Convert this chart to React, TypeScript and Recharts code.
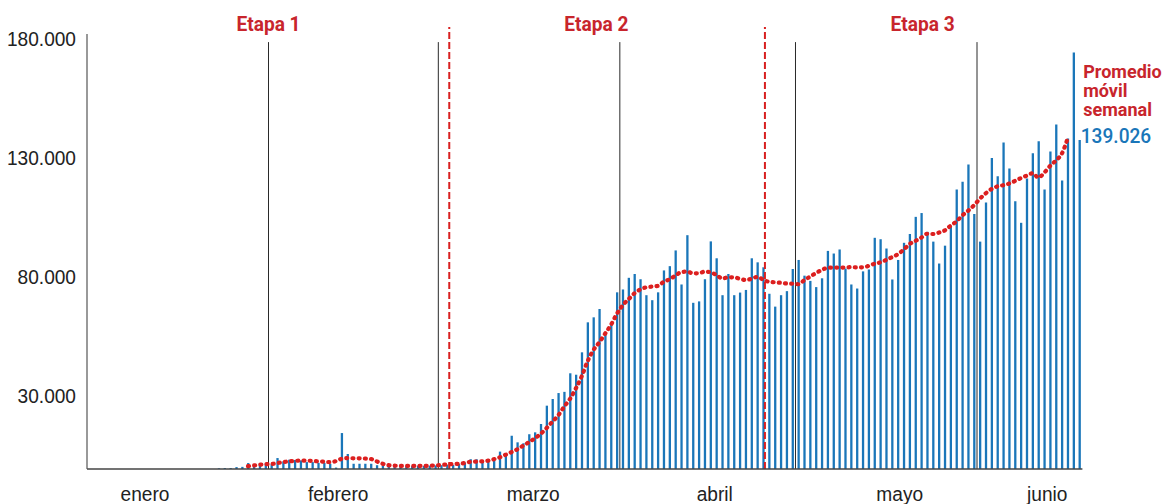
import { ComposedChart, Bar, Line, XAxis, YAxis, ReferenceLine, ReferenceDot } from 'recharts'

// dias desde el 31/12/2020 (k = 0) hasta el 18/06/2021 (k = 169)
const inicio = new Date(2020, 11, 31)

const vacunas = [
  0, 0, 0, 0, 0, 0, 0, 0, 0, 0, 0, 0, 0, 0, 0, 0, 0, 0, 0, 0, 0, 0,
  300, 400, 400, 800, 900, 2500, 2000, 2200, 2400, 2000, 4600, 3200, 3900, 3800,
  3600, 2900, 2900, 2600, 2600, 2200, 600, 15100, 6300, 2200, 2200, 2200, 2200, 1600,
  1400, 1300, 1400, 1300, 1200, 1300, 1400, 1300, 1400, 1500, 1600, 1800, 1700, 2100,
  2700, 4100, 4100, 3800, 4100, 4500, 7300, 6200, 14000, 11200, 10800, 14600, 15400, 18900,
  26600, 29400, 31900, 32400, 40200, 39600, 49000, 61600, 63700, 67200, 57000, 61000, 74200, 75400,
  80300, 81900, 79700, 73000, 70900, 74200, 83400, 85200, 91800, 77500, 98200, 69800, 70400, 79700,
  95600, 88500, 73000, 81900, 73000, 74100, 75200, 88500, 86800, 84700, 73600, 68200, 73000, 74700,
  84000, 87800, 81200, 79000, 76400, 80100, 91600, 90500, 92200, 84200, 77500, 75800, 83000, 83800,
  97100, 96500, 92600, 79600, 87800, 95000, 98700, 105900, 107500, 99600, 95500, 86300, 93800, 101900,
  117400, 120600, 127900, 107100, 95500, 111900, 130600, 123000, 137100, 126200, 112500, 103400, 122000, 132600,
  137700, 117400, 133300, 144700, 121200, 138800, 174900, 138200,
]

// promedio movil semanal, empieza en k = 27
const promedioDesde = 27
const promedio = [
  1200, 1500, 1800, 2000, 2100, 2500, 2900, 3200, 3400, 3500, 3500, 3400, 3200, 3100,
  2900, 3300, 4300, 4600, 4500, 4500, 4400, 4200, 3200, 2200, 1600, 1400, 1300, 1300,
  1300, 1300, 1300, 1400, 1500, 1700, 1900, 2100, 2200, 2500, 3000, 3100, 3200, 3500,
  4100, 4900, 6000, 7100, 8300, 9800, 11300, 12900, 14800, 17200, 19900, 22600, 26200, 29500,
  33900, 39000, 45300, 50000, 53200, 56900, 60600, 65200, 68800, 71300, 73800, 75400, 76300, 76600,
  76900, 78600, 79700, 81200, 82700, 82900, 82200, 82200, 82900, 82600, 81500, 80000, 80500, 80500,
  79900, 79400, 79900, 80700, 79500, 78600, 78400, 78200, 77900, 77800, 77600, 79300, 80800, 82300,
  83600, 84500, 84600, 84600, 84600, 84800, 84700, 84700, 85300, 86200, 86800, 87800, 89000, 90200,
  92200, 94500, 95800, 97200, 98800, 98700, 99300, 100200, 102200, 104000, 106500, 108500, 110800, 113500,
  115800, 117600, 118700, 119200, 119900, 121000, 122200, 123200, 124200, 122400, 124500, 127300, 129600, 132500,
  139026,
]

const meses = ['enero', 'febrero', 'marzo', 'abril', 'mayo', 'junio']
const mesTicks = [9.4, 42.4, 75.7, 106.7, 138.3, 163.5]
const yTicks = [30000, 80000, 130000, 180000]
const cortesMes = [30.5, 59.5, 90.5, 120.5, 151.5]
const inicioEtapas = [61.37, 115.28]
const etapas = ['Etapa 1', 'Etapa 2', 'Etapa 3']
const etapaPos = [30.5, 86.5, 142.2]

const data = vacunas.map((v, k) => {
  const d = new Date(inicio)
  d.setDate(d.getDate() + k)
  const j = k - promedioDesde
  return {
    k,
    fecha: `${d.getDate()}/${d.getMonth() + 1}`,
    vacunas: v,
    promedio: j >= 0 && j < promedio.length ? promedio[j] : null,
  }
})

const fmt = (n: number) => n.toLocaleString('de-DE')
const SQ = 0.91 // el original esta algo comprimido en horizontal
const ROJO = '#c8252c'
const AZUL = '#1a76b9'

const MesTick = (props: any) => {
  const { x, y, payload } = props
  const i = mesTicks.indexOf(payload.value)
  return (
    <text transform={`translate(${x} ${y + 24}) scale(${SQ} 1)`} textAnchor="middle"
      fontFamily="Liberation Sans, Arial, sans-serif" fontSize={21} fill="#222">
      {meses[i]}
    </text>
  )
}

const CifraTick = (props: any) => {
  const { x, y, payload } = props
  return (
    <text transform={`translate(${x} ${y + 5.5}) scale(${SQ} 1)`} textAnchor="end"
      fontFamily="Liberation Sans, Arial, sans-serif" fontSize={21} fill="#222">
      {fmt(payload.value)}
    </text>
  )
}

const EtapaLabel = (texto: string) => (props: any) => {
  const { x, y } = props.viewBox
  return (
    <text transform={`translate(${x} ${y}) scale(${SQ} 1)`} textAnchor="middle"
      fontFamily="Roboto, sans-serif" fontWeight={700} fontSize={21} fill={ROJO}>
      {texto}
    </text>
  )
}

const EtiquetaPromedio = (props: any) => {
  const { x, y } = props.viewBox
  const lineas = ['Promedio', 'móvil', 'semanal']
  return (
    <g>
      {lineas.map((t, i) => (
        <text key={t} x={x + 15.5} y={y - 60 + i * 19}
          fontFamily="Roboto, sans-serif" fontWeight={700} fontSize={18} fill={ROJO}>
          {t}
        </text>
      ))}
      <text transform={`translate(${x + 13} ${y + 5}) scale(${SQ} 1)`}
        fontFamily="Roboto, sans-serif" fontWeight={500} fontSize={21} fill={AZUL}>
        {fmt(promedio[promedio.length - 1])}
      </text>
    </g>
  )
}

export default function App() {
  const ultimo = promedioDesde + promedio.length - 1
  return (
    <div style={{ position: 'absolute', left: 0, top: 0, background: '#fff' }}>
      <ComposedChart width={1164} height={504} data={data}
        margin={{ top: 34, right: 81.6, bottom: 0, left: 7 }}>
        <XAxis type="number" dataKey="k" domain={[-0.5, 169.5]} ticks={mesTicks} interval={0}
          height={35} tickLine={false} axisLine={{ stroke: '#444', strokeWidth: 1.5 }} tick={<MesTick />} />
        <YAxis type="number" domain={[0, 182700]} ticks={yTicks} interval={0} width={80}
          tickLine={false} tickMargin={5} axisLine={{ stroke: '#555', strokeWidth: 1.2 }} tick={<CifraTick />} />
        <Bar dataKey="vacunas" fill={AZUL} barSize={2.3} isAnimationActive={false} />
        {cortesMes.map((x) => (
          <ReferenceLine key={x} segment={[{ x, y: 0 }, { x, y: 179300 }]} stroke="#2a2a2a" strokeWidth={1} />
        ))}
        {inicioEtapas.map((x) => (
          <ReferenceLine key={x} segment={[{ x, y: 0 }, { x, y: 185600 }]} ifOverflow="visible"
            stroke="#d82020" strokeWidth={2} strokeDasharray="7 3" />
        ))}
        <Line dataKey="promedio" type="monotone" stroke="#dc1f1f" strokeWidth={4.2}
          strokeDasharray="1 5.2" strokeLinecap="round" dot={false} activeDot={false}
          isAnimationActive={false} />
        {etapas.map((t, i) => (
          <ReferenceDot key={t} x={etapaPos[i]} y={184000} r={0} ifOverflow="visible"
            fill="none" stroke="none" label={EtapaLabel(t)} />
        ))}
        <ReferenceDot x={ultimo} y={promedio[promedio.length - 1]} r={0} ifOverflow="visible"
          fill="none" stroke="none" label={EtiquetaPromedio} />
      </ComposedChart>
    </div>
  )
}
